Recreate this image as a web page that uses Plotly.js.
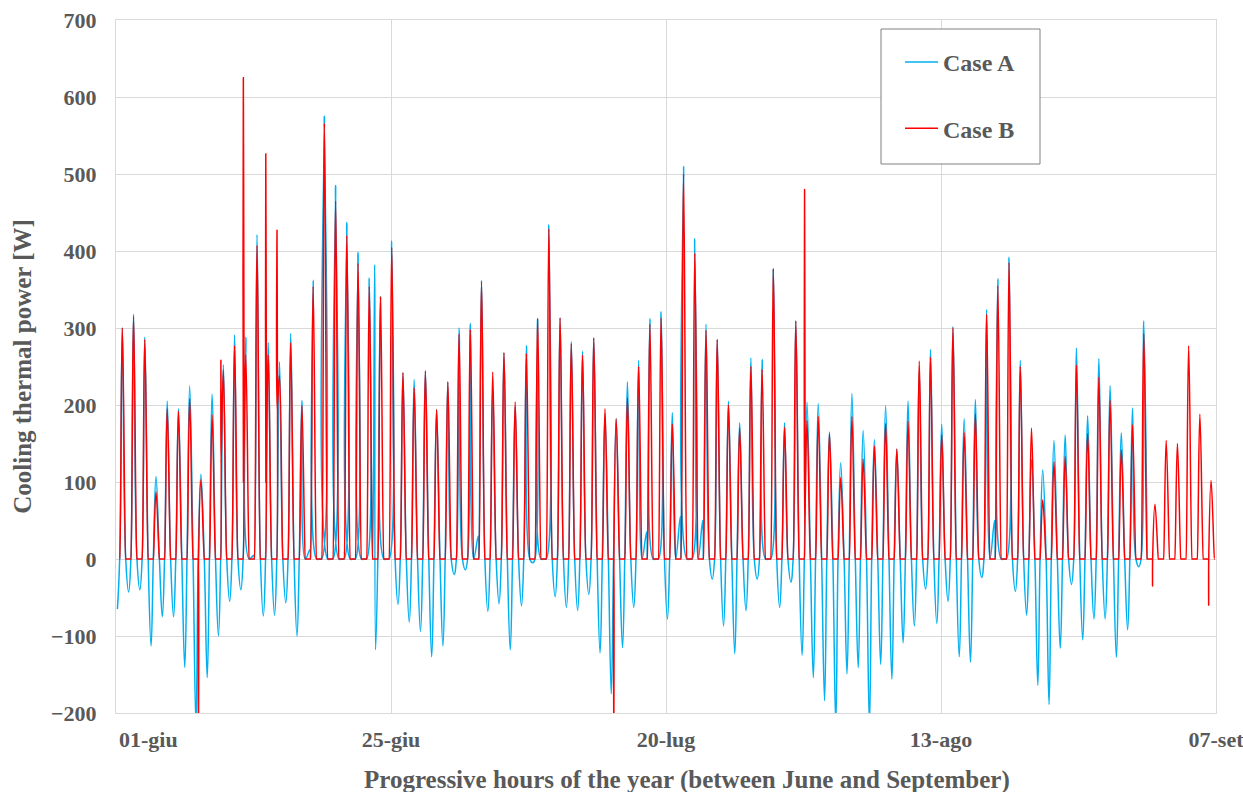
<!DOCTYPE html>
<html><head><meta charset="utf-8">
<script src="https://cdn.plot.ly/plotly-3.0.1.min.js"></script>
<style>html,body{margin:0;padding:0;background:#fff}#chart{width:1243px;height:792px}</style>
</head><body><div id="chart"></div>
<script>
// X axis: days since 1 June (hourly series between June and September)
const tickDays = [0, 24.5, 49, 73.5, 98];
const tickLabels = ['01-giu', '25-giu', '20-lug', '13-ago', '07-set'];

// Case A: daily afternoon peak and night minimum [W]
const peakA = [300,318,288,107,205,195,225,110,214,252,
  291,288,421,281,256,293,206,362,575,485,
  437,398,365,341,413,242,233,244,194,230,
  300,306,362,220,268,198,277,312,434,313,
  282,270,287,187,182,230,258,312,321,190,
  510,416,305,285,205,177,261,259,377,177,
  309,204,202,165,125,215,167,155,199,143,
  205,244,272,175,302,182,207,324,364,392,
  258,129,116,154,161,274,186,260,225,164,
  196,309];
const troughA = [-65,-43,-40,-113,-75,-75,-141,-215,-154,-100,
  -55,-40,5,-74,-73,-57,-100,12,0,0,
  0,0,0,-118,0,-59,-82,-94,-127,-113,
  -20,-14,30,-68,-58,-118,-61,-5,0,-49,
  -63,-67,-46,-122,-175,-115,-63,35,0,-78,
  55,0,50,-26,-87,-123,-67,-26,0,-63,
  -30,-125,-154,-184,-215,-149,-141,-215,-137,-156,
  -109,-87,-39,-84,-55,-127,-134,-24,50,0,
  -42,-73,-164,-189,-116,-33,-105,-78,-78,-128,
  -92,-10];
// Case A isolated night spike
const spikeDayA = [23];
const spikeValA = [382];

// Case B: daily peak [W]
const peakB = [300,315,285,87,195,192,208,103,187,245,
  277,265,407,265,238,281,199,354,566,465,
  420,384,354,341,405,242,222,244,194,230,
  292,298,360,243,268,204,267,312,429,313,
  280,265,287,195,182,209,250,305,313,175,
  500,397,297,285,200,170,250,246,377,171,
  309,180,185,163,106,185,130,147,176,143,
  179,257,262,161,300,164,188,318,355,385,
  250,170,77,126,133,252,163,236,206,142,
  174,293,71,154,150,277,188,102];
// Case B switch-on spikes: day, spike value, value right after
const spikeDayB = [7, 9, 11, 13, 14, 44, 61, 92, 97];
const spikeValB = [-240, 258, 625, 526, 427, -240, 480, -35, -60];
const spikeAfterB = [0, 125, 100, 100, 195, 0, 45, 0, 0];

// sampling hours within a day
const H_SPK_A = 1, H_TROUGH = 3, H_BUMP = 6.5, H_ON = 7.8, H_SPK = 8.3, H_SPK2 = 8.5, H_PEAK = 13.5, H_OFF = 20.8;

const xA = [], yA = [];
for (let d = 0; d < peakA.length; d++) {
  const s = spikeDayA.indexOf(d);
  if (s >= 0) { xA.push(d + H_SPK_A / 24); yA.push(spikeValA[s]); }
  xA.push(d + (troughA[d] > 0 ? H_BUMP : H_TROUGH) / 24); yA.push(troughA[d]);
  xA.push(d + H_ON / 24); yA.push(0);
  xA.push(d + H_PEAK / 24); yA.push(peakA[d]);
  xA.push(d + H_OFF / 24); yA.push(0);
}

const xB = [], yB = [];
for (let d = 0; d < peakB.length; d++) {
  xB.push(d + (H_ON - 0.1) / 24); yB.push(0);
  xB.push(d + H_ON / 24); yB.push(0);
  const s = spikeDayB.indexOf(d);
  if (s >= 0) {
    xB.push(d + H_SPK / 24); yB.push(spikeValB[s]);
    xB.push(d + H_SPK2 / 24); yB.push(spikeAfterB[s]);
  }
  xB.push(d + H_PEAK / 24); yB.push(peakB[d]);
  xB.push(d + H_OFF / 24); yB.push(0);
  xB.push(d + (H_OFF + 0.1) / 24); yB.push(0);
}

const FONT = 'Liberation Serif, Times New Roman, serif';
const GREY = '#595959';

const traces = [
  {x: xA, y: yA, name: 'Case A', legendgroup: 'A', type: 'scatter', mode: 'lines',
   line: {color: '#00B0F0', width: 1.5, shape: 'spline', smoothing: 1.2, simplify: false}},
  {x: xB, y: yB, name: 'Case B', legendgroup: 'B', type: 'scatter', mode: 'lines',
   line: {color: '#FF0000', width: 1.5, shape: 'spline', smoothing: 1.2, simplify: false}}
];

const L = 116, R = 1216, T = 20, B = 713;
const px = v => (v - L) / (R - L);
const py = v => (B - v) / (B - T);
const tickFont = {family: FONT, size: 22, color: GREY, weight: 'bold'};

const layout = {
  width: 1243, height: 792,
  margin: {l: L, r: 1243 - R, t: T, b: 792 - B},
  paper_bgcolor: '#fff', plot_bgcolor: '#fff',
  showlegend: true,
  xaxis: {
    range: [0, 98], tickvals: tickDays, ticktext: tickLabels.map((t, i) => i === 0 ? '' : t),
    showgrid: true, gridcolor: '#D9D9D9', gridwidth: 1,
    showline: true, mirror: true, linecolor: '#D9D9D9', linewidth: 1,
    zeroline: false, ticks: '', ticklabelstandoff: 7, ticklabeloverflow: 'allow',
    tickfont: tickFont
  },
  yaxis: {
    range: [-200, 700], tick0: 0, dtick: 100,
    showgrid: true, gridcolor: '#D9D9D9', gridwidth: 1,
    showline: true, mirror: true, linecolor: '#D9D9D9', linewidth: 1,
    zeroline: false, ticks: '', ticklabelstandoff: 14,
    tickfont: tickFont,
    title: {text: 'Cooling thermal power [W]', standoff: 12,
            font: {family: FONT, size: 25, color: GREY, weight: 'bold'}}
  },
  annotations: [{
    text: tickLabels[0],
    xref: 'paper', yref: 'paper', x: px(117), y: py(740), xanchor: 'left', yanchor: 'middle',
    showarrow: false, font: tickFont
  }, {
    text: 'Progressive hours of the year (between June and September)',
    xref: 'paper', yref: 'paper', x: px(687), y: py(780), xanchor: 'center', yanchor: 'middle',
    showarrow: false, font: {family: FONT, size: 25, color: GREY, weight: 'bold'}
  }],
  legend: {
    x: px(900), xanchor: 'left', y: py(40), yanchor: 'top',
    bgcolor: 'rgba(0,0,0,0)', borderwidth: 0, traceorder: 'grouped', tracegroupgap: 32,
    itemwidth: 33,
    font: {family: FONT, size: 24, color: GREY, weight: 'bold'}
  },
  shapes: [{
    type: 'rect', xref: 'paper', yref: 'paper', layer: 'above',
    x0: px(881), x1: px(1040), y0: py(164), y1: py(29),
    line: {color: '#808080', width: 1}, fillcolor: '#FFFFFF'
  }]
};

Plotly.newPlot('chart', traces, layout, {staticPlot: true, displayModeBar: false});
</script>
</body></html>
